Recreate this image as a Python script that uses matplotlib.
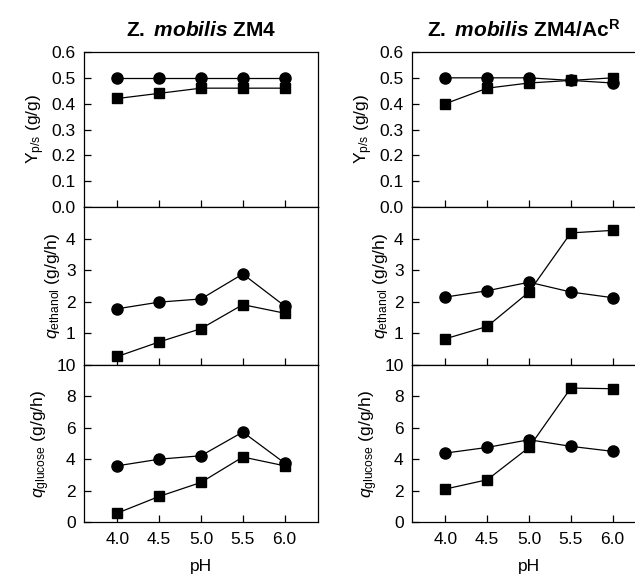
import matplotlib
matplotlib.use("Agg")
import matplotlib.pyplot as plt
import numpy as np

ph = [4.0, 4.5, 5.0, 5.5, 6.0]

# Z. mobilis ZM4
zm4_yps_circle = [0.50, 0.50, 0.50, 0.50, 0.50]
zm4_yps_square = [0.42, 0.44, 0.46, 0.46, 0.46]
zm4_qeth_circle = [1.78, 1.99, 2.09, 2.88, 1.87]
zm4_qeth_square = [0.27, 0.73, 1.15, 1.91, 1.64]
zm4_qglc_circle = [3.58, 4.00, 4.22, 5.73, 3.76]
zm4_qglc_square = [0.57, 1.63, 2.52, 4.14, 3.58]

# Z. mobilis ZM4/AcR
acr_yps_circle = [0.50, 0.50, 0.50, 0.49, 0.48]
acr_yps_square = [0.40, 0.46, 0.48, 0.49, 0.50]
acr_qeth_circle = [2.15, 2.35, 2.62, 2.31, 2.13]
acr_qeth_square = [0.83, 1.22, 2.31, 4.18, 4.26]
acr_qglc_circle = [4.39, 4.75, 5.24, 4.82, 4.50]
acr_qglc_square = [2.10, 2.69, 4.75, 8.53, 8.49]

xtick_labels = ["4.0", "4.5", "5.0", "5.5", "6.0"]

plt.rcParams['font.family'] = ['Liberation Sans', 'DejaVu Sans']
plt.rcParams['mathtext.fontset'] = 'custom'
plt.rcParams['mathtext.rm'] = 'Liberation Sans'
plt.rcParams['mathtext.it'] = 'Liberation Sans:italic'
plt.rcParams['mathtext.bf'] = 'Liberation Sans:bold'
try:
    plt.rcParams['mathtext.bfit'] = 'Liberation Sans:italic:bold'
except Exception:
    pass

W, H = 635, 578
fig = plt.figure(figsize=(W/100, H/100), dpi=100)

def fx(px):
    return px / W

def fy(py):
    return 1 - py / H

lefts = [84, 412]
width = 234
rows = [(52, 207), (207, 365), (365, 522)]

data = [
    [(zm4_yps_circle, zm4_yps_square), (zm4_qeth_circle, zm4_qeth_square), (zm4_qglc_circle, zm4_qglc_square)],
    [(acr_yps_circle, acr_yps_square), (acr_qeth_circle, acr_qeth_square), (acr_qglc_circle, acr_qglc_square)],
]
ylims = [(0, 0.6), (0, 5), (0, 10)]
yticks = [[0, 0.1, 0.2, 0.3, 0.4, 0.5, 0.6], [1, 2, 3, 4], [0, 2, 4, 6, 8, 10]]
yticklabels = [["0.0", "0.1", "0.2", "0.3", "0.4", "0.5", "0.6"], ["1", "2", "3", "4"], ["0", "2", "4", "6", "8", "10"]]
ylabels = [r"$\mathrm{Y}_{\mathrm{p/s}}$ (g/g)", r"$q_{\mathrm{ethanol}}$ (g/g/h)", r"$q_{\mathrm{glucose}}$ (g/g/h)"]
titles = [r"$\mathbf{Z.}\ \mathbfit{mobilis}\ \mathbf{ZM4}$",
          r"$\mathbf{Z.}\ \mathbfit{mobilis}\ \mathbf{ZM4/Ac}^{\mathbf{R}}$"]
title_x = [201, 524]
fs = 12.5

for c in range(2):
    for r in range(3):
        top, bot = rows[r]
        ax = fig.add_axes([fx(lefts[c]), fy(bot), fx(width), (bot - top) / H])
        circ, sq = data[c][r]
        ax.plot(ph, circ, color='black', lw=0.9, marker='o', ms=8, mfc='black', mec='black', zorder=3)
        ax.plot(ph, sq, color='black', lw=0.9, marker='s', ms=7, mfc='black', mec='black', zorder=3)
        ax.set_xlim(3.6, 6.4)
        ax.set_ylim(*ylims[r])
        ax.set_yticks(yticks[r])
        ax.set_yticklabels(yticklabels[r], fontsize=fs)
        ax.set_xticks(ph)
        if r == 2:
            ax.set_xticklabels(xtick_labels, fontsize=fs)
            ax.set_xlabel("pH", fontsize=fs, labelpad=9)
        else:
            ax.set_xticklabels([])
        ax.tick_params(direction='in', length=5, width=0.9)
        ax.tick_params(axis='y', pad=6)
        ax.tick_params(axis='x', pad=7)
        for s in ax.spines.values():
            s.set_linewidth(0.9)
        ax.set_ylabel(ylabels[r], fontsize=fs, labelpad=3)
    fig.text(fx(title_x[c]), fy(30), titles[c], fontsize=15, ha='center', va='center')

fig.savefig("out.png", dpi=100)
